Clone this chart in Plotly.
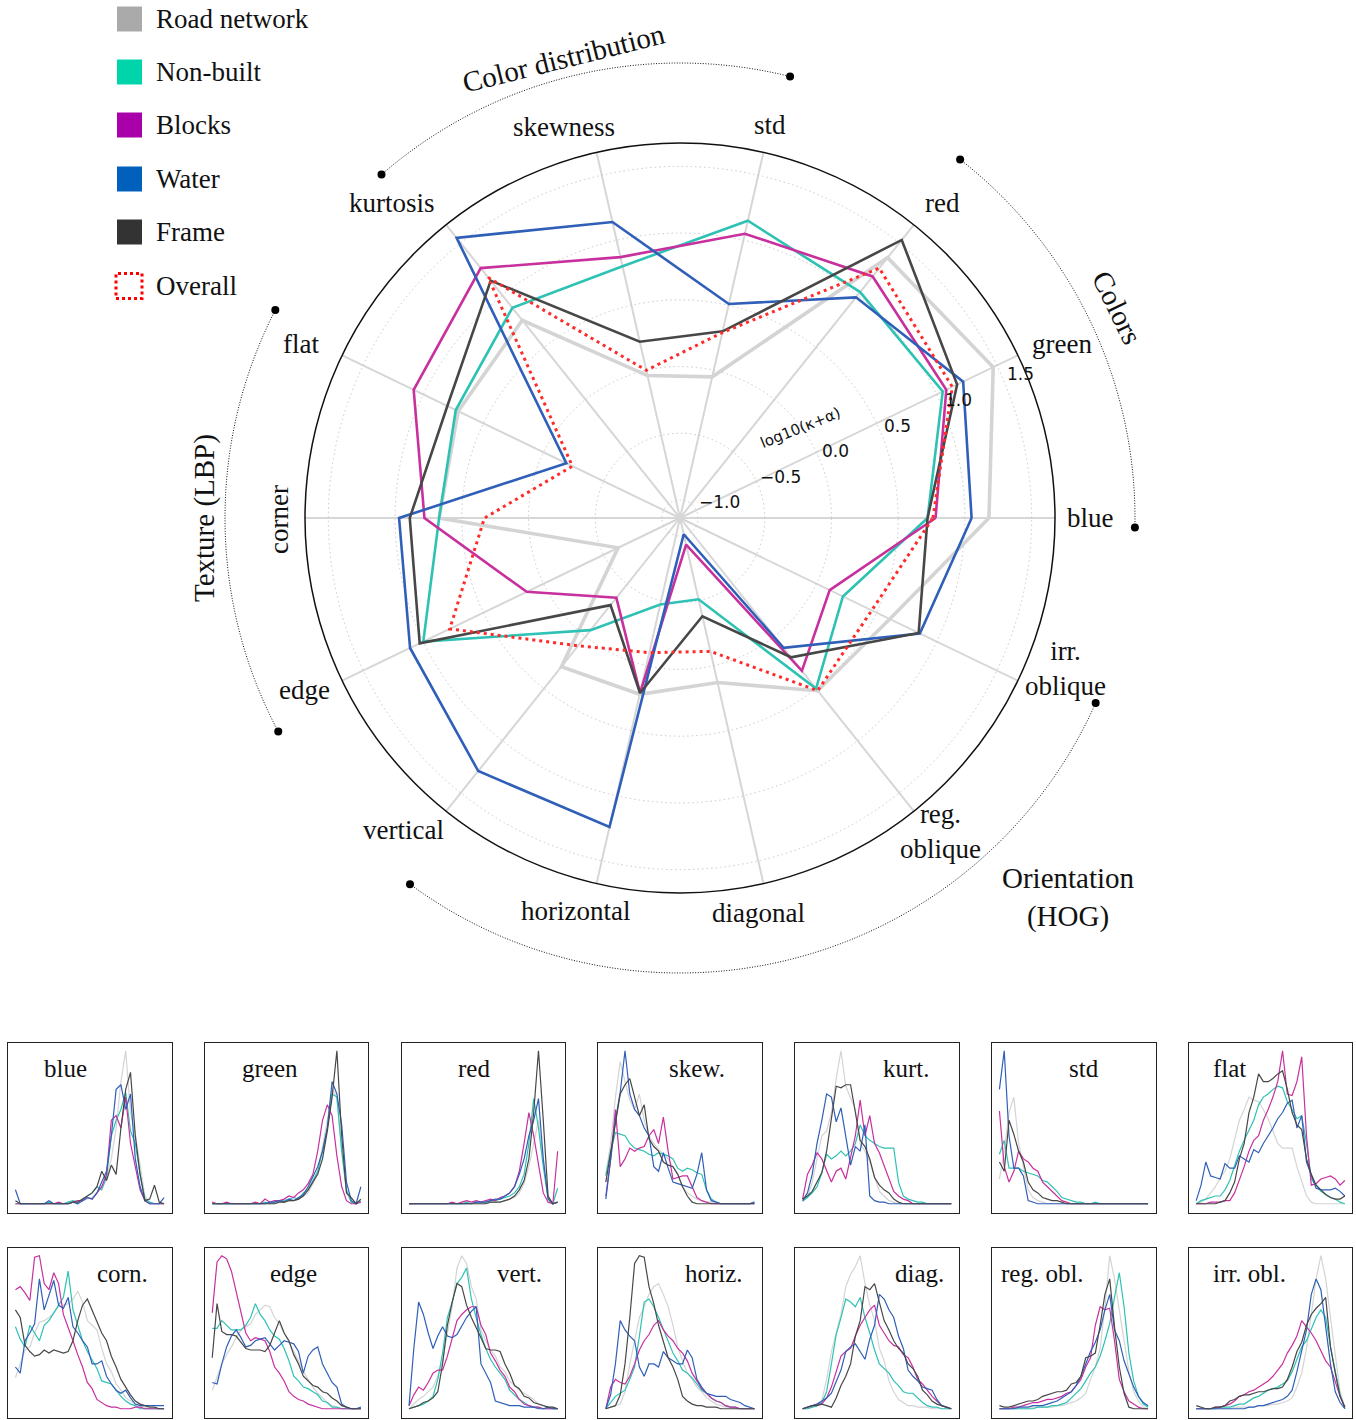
import math
import plotly.graph_objects as go

W, H = 1356, 1420
SERIF = "Liberation Serif"
SANS = "DejaVu Sans"

# ---------------- radar data: log10(kappa+alpha) per descriptor ----------------
descriptors = ["blue", "green", "red", "std", "skewness", "kurtosis", "flat",
               "corner", "edge", "vertical", "horizontal", "diagonal",
               "reg. oblique", "irr. oblique"]

road_network = [1.18, 1.47, 1.36, -0.05, -0.04, 0.76, 0.71, 0.67, -0.62, 0.29, 0.22, 0.13, 0.52, 0.61]
non_built    = [0.72, 1.05, 1.03, 1.15, 0.80, 0.88, 0.73, 0.67, 1.00, -0.06, -0.47, -0.51, 0.50, 0.22]
blocks       = [0.78, 1.08, 1.18, 1.05, 0.87, 1.26, 1.08, 0.78, 0.14, -0.37, 0.21, -0.93, 0.33, 0.11]
water        = [1.05, 1.22, 0.98, 0.51, 1.14, 1.55, -0.19, 0.97, 1.11, 1.29, 1.24, -1.01, 0.11, 0.86]
frame        = [0.72, 1.17, 1.53, 0.30, 0.22, 1.14, 0.80, 0.89, 1.03, -0.30, 0.21, -0.38, 0.20, 0.85]
overall      = [0.76, 1.13, 1.26, 0.29, 0.00, 1.17, -0.24, 0.33, 0.78, 0.09, -0.10, -0.11, 0.52, 0.46]

radial_range = [-1.135, 1.675]
radial_ticks = [-1.0, -0.5, 0.0, 0.5, 1.0, 1.5]
radial_ticktext = ["\u22121.0", "\u22120.5", "0.0", "0.5", "1.0", "1.5"]

# ---------------- per-descriptor histograms (series order: road, non-built, blocks, water, frame) ----------------
hist_blue = [
    [1,1,1,1,1,1,1,1,1,1, 1,2,2,3,3,4,5,8,12,18, 30,50,80,100,60,46,25,6,2,1, 1,1],
    [1,1,1,1,1,1,1,2,1,1, 1,2,3,2,4,6,8,12,10,18, 45,55,62,73,48,40,20,4,2,1, 1,1],
    [1,1,1,1,1,1,1,1,1,2, 1,1,2,3,3,5,4,8,12,20, 55,58,50,70,40,25,10,3,1,1, 1,1],
    [10,1,1,1,1,1,1,3,1,1, 1,1,2,1,3,5,4,8,15,22, 45,75,78,62,72,30,12,3,1,1, 1,5],
    [3,1,1,1,1,1,1,1,1,1, 1,1,2,2,4,6,8,12,22,16, 26,20,50,75,86,45,20,3,4,13, 2,1],
]
hist_green = [
    [1,1,1,1,1,1,1,1,1,1, 1,1,1,1,2,2,3,3,4,6, 8,14,22,38,55,75,70,35,8,2, 1,2],
    [1,1,1,1,1,1,1,1,1,1, 1,2,1,2,3,3,4,5,4,8, 10,16,22,35,50,72,70,35,10,2, 1,3],
    [2,1,1,2,1,1,1,1,1,2, 1,4,2,3,3,4,6,5,8,10, 14,20,35,55,65,58,32,12,3,1, 1,2],
    [1,1,1,1,1,1,1,1,1,1, 1,1,2,2,3,2,4,3,5,7, 12,18,25,35,50,80,72,52,15,3, 1,12],
    [1,1,1,1,1,1,1,1,1,1, 1,1,1,1,2,2,3,3,4,6, 10,15,20,30,48,70,100,45,8,5, 1,4],
]
hist_red = [
    [1,1,1,1,1,1,1,1,1,1, 1,1,1,1,1,1,1,2,2,2, 3,4,5,8,14,25,40,55,30,5, 1,2],
    [1,1,1,1,1,1,1,1,1,1, 1,1,2,1,2,2,2,3,3,4, 5,6,8,12,20,40,69,50,25,4, 1,11],
    [1,1,1,1,1,1,1,1,1,2, 1,2,3,2,3,2,3,4,3,5, 6,8,12,22,40,60,45,25,8,2, 1,35],
    [1,1,1,1,1,1,1,1,1,1, 1,1,1,1,2,2,2,3,4,4, 6,8,12,20,30,45,55,69,30,4, 1,2],
    [1,1,1,1,1,1,1,1,1,1, 1,1,1,1,1,1,1,2,2,2, 3,4,6,10,16,30,60,100,55,6, 1,2],
]
hist_skew = [
    [20,40,70,93,80,68,62,72,55,45, 40,36,33,30,25,20,12,8,6,4, 3,2,2,1,1,1,1,1,1,1, 1,1],
    [19,35,47,46,45,40,37,36,35,33, 32,34,33,32,30,24,22,24,23,21, 20,10,4,2,1,1,1,1,1,1, 1,2],
    [6,30,62,25,30,37,35,37,38,45, 49,40,57,35,17,18,19,19,12,5, 3,2,1,1,1,1,1,1,1,1, 1,1],
    [4,28,55,73,100,72,62,58,50,45, 25,22,34,24,15,14,13,12,11,20, 34,10,3,2,1,1,1,1,1,1, 1,2],
    [15,35,55,72,78,82,70,58,65,43, 38,35,28,26,25,20,12,6,2,1, 1,1,1,1,1,1,1,1,1,1, 1,1],
]
hist_kurt = [
    [2,5,15,30,45,48,60,82,100,77, 70,62,40,35,28,18,9,6,3,2, 1,1,1,1,1,1,1,1,1,1, 1,1],
    [3,5,8,12,21,33,30,32,35,32, 35,40,52,45,42,40,38,37,37,37, 15,6,4,3,2,2,1,1,1,1, 1,1],
    [4,20,26,34,30,22,15,22,24,17, 30,45,68,45,58,40,34,26,18,9, 6,4,3,1,1,1,1,1,1,1, 1,1],
    [3,8,20,40,55,72,70,54,63,45, 26,38,35,52,6,3,2,2,1,1, 1,1,1,1,1,1,1,1,1,1, 1,1],
    [4,6,9,15,21,35,55,77,76,78, 78,60,42,38,30,18,13,10,8,4, 2,1,1,1,1,1,1,1,1,1, 1,1],
]
hist_std = [
    [17,35,60,70,40,24,10,5,3,2, 1,1,1,1,1,1,1,1,1,1, 1,1,1,1,1,1,1,1,1,1, 1,1],
    [33,42,24,24,24,22,21,20,19,16, 15,12,9,5,4,3,2,2,1,1, 2,1,1,1,1,1,1,1,1,1, 1,1],
    [61,25,15,22,35,30,28,24,22,15, 12,9,6,3,2,1,1,1,1,1, 1,1,1,1,1,1,1,1,1,1, 1,1],
    [75,100,45,24,24,19,3,2,1,1, 1,1,1,1,1,1,1,1,1,1, 1,1,1,1,1,1,1,1,1,1, 1,1],
    [28,22,55,46,35,28,15,10,8,5, 4,3,3,2,1,1,1,1,1,1, 1,1,1,1,1,1,1,1,1,1, 1,1],
]
hist_flat = [
    [1,2,4,8,12,18,22,30,42,55, 62,70,68,67,62,56,48,40,37,37, 37,25,15,6,2,1,1,1,1,1, 1,1],
    [1,3,4,5,6,6,10,16,25,35, 42,48,55,65,70,72,75,77,76,67, 62,56,58,40,17,13,9,7,5,4, 2,1],
    [1,1,1,2,2,2,3,3,8,16, 25,35,42,45,55,62,70,80,100,72, 71,80,96,45,13,14,17,18,19,17, 13,16],
    [3,13,28,19,18,17,27,24,24,32, 30,28,36,34,40,45,50,56,60,66, 68,50,58,28,20,11,10,10,10,11, 9,6],
    [1,1,1,1,1,2,3,8,15,30, 40,60,70,85,80,80,82,85,87,75, 60,52,49,30,20,13,10,7,5,4, 4,6],
]
hist_corn = [
    [21,30,39,41,50,57,58,60,63,67, 68,69,72,77,70,58,55,52,40,30, 25,17,13,8,6,4,3,2,1,1, 1,1],
    [54,46,41,55,50,45,55,58,63,68, 73,90,65,55,45,38,32,27,19,18, 17,13,9,6,4,3,1,1,1,1, 1,1],
    [78,80,76,71,99,100,82,78,89,82, 62,54,45,36,28,18,14,7,5,3, 2,2,1,1,1,2,2,1,1,1, 1,1],
    [28,24,45,50,56,85,65,75,84,68, 66,73,54,50,45,41,30,30,32,22, 17,13,11,13,8,4,3,3,3,3, 3,3],
    [65,60,42,38,35,36,39,37,39,38, 37,38,45,58,68,72,65,58,50,45, 35,28,20,15,10,6,4,3,2,2, 1,1],
]
hist_edge = [
    [13,22,30,36,41,47,52,54,56,62, 65,68,67,60,56,50,45,38,32,25, 20,15,11,8,5,3,2,1,1,1, 1,1],
    [53,53,58,55,52,52,52,55,60,69, 62,58,52,48,46,40,32,22,19,15, 14,12,10,6,5,2,2,1,1,1, 1,1],
    [63,96,100,98,90,77,65,50,45,47, 46,45,38,28,24,19,12,9,7,6, 4,3,2,1,1,1,1,1,1,1, 1,1],
    [18,17,30,41,48,52,47,41,42,45, 46,47,43,39,42,45,44,43,38,24, 35,39,41,30,24,18,15,4,2,1, 1,2],
    [34,69,51,49,49,48,44,40,39,39, 39,38,42,50,58,50,45,36,30,22, 19,16,15,12,11,8,6,3,2,1, 1,1],
]
hist_vert = [
    [1,4,7,9,12,15,22,32,50,67, 92,100,95,80,72,52,45,39,35,28, 25,19,16,13,11,9,7,4,3,2, 2,1],
    [1,2,3,4,6,9,20,37,60,70, 82,86,92,72,60,49,40,33,28,24, 20,13,10,7,5,3,2,2,1,1, 1,1],
    [3,10,15,13,18,24,26,26,35,47, 58,62,65,67,67,55,49,37,32,26, 22,15,12,7,4,3,2,2,1,1, 1,1],
    [3,40,70,62,50,40,48,54,48,47, 49,55,60,64,67,30,24,18,6,5, 4,3,3,3,2,2,2,1,1,2, 1,1],
    [1,2,3,5,6,8,12,30,55,70, 82,80,68,60,54,47,40,39,39,38, 30,24,16,14,9,8,5,4,3,2, 2,1],
]
hist_horiz = [
    [1,2,3,4,12,30,45,60,67,75, 80,82,75,67,55,41,32,24,20,15, 12,8,6,4,3,2,2,1,1,1, 1,1],
    [1,5,9,11,13,20,28,48,70,72, 67,60,52,44,37,32,26,24,21,17, 13,11,8,6,5,3,2,2,1,1, 1,1],
    [1,15,20,18,17,22,30,39,45,49, 55,58,52,48,45,40,37,32,24,19, 14,11,8,6,5,3,2,2,1,1, 1,1],
    [1,10,30,58,52,48,45,28,22,30, 30,28,38,34,32,30,30,39,34,20, 15,11,10,9,9,9,7,6,5,3, 2,1],
    [1,2,3,10,30,60,95,100,99,80, 69,55,45,34,28,20,9,6,4,3, 3,2,2,2,1,1,1,1,1,1, 1,1],
]
hist_diag = [
    [1,1,2,3,6,20,38,50,62,80, 88,93,100,82,68,58,40,32,19,12, 7,5,3,3,2,2,2,1,1,1, 1,1],
    [1,1,2,3,5,12,30,49,60,72, 70,67,73,60,50,39,30,27,24,19, 16,12,11,11,8,5,3,2,2,1, 1,1],
    [1,2,3,4,4,8,15,25,35,38, 40,48,55,60,65,68,55,50,45,42, 41,36,34,28,20,17,13,9,6,3, 2,1],
    [1,2,3,4,6,8,11,18,26,38, 41,43,38,33,46,55,75,72,65,60, 48,40,26,22,19,15,14,13,7,3, 2,1],
    [1,2,3,3,4,3,2,8,16,22, 30,48,58,80,78,82,70,58,52,45, 40,37,30,27,22,13,10,6,4,3, 2,1],
]
hist_regobl = [
    [1,1,1,1,1,1,1,2,2,2, 2,2,3,3,4,5,6,8,11,20, 28,40,67,100,85,65,45,25,12,6, 2,1],
    [1,1,1,1,1,1,1,1,2,2, 2,3,3,4,5,8,11,14,19,24, 28,35,45,56,73,89,67,37,19,9, 4,2],
    [1,1,1,2,2,3,4,5,5,6, 7,7,8,9,11,12,16,20,28,34, 55,67,65,66,45,20,12,6,4,2, 1,1],
    [1,1,1,1,2,2,2,3,3,3, 4,5,6,8,10,12,16,22,30,38, 44,52,65,75,52,45,32,24,15,9, 5,3],
    [3,2,2,3,4,5,6,6,7,9, 10,11,12,12,13,17,18,22,34,35, 37,55,75,85,54,28,11,2,1,1, 1,1],
]
hist_irrobl = [
    [1,1,1,1,1,1,1,1,2,2, 2,2,2,3,3,3,4,4,5,6, 8,15,24,40,62,85,100,85,60,35, 12,2],
    [1,1,1,1,1,2,2,2,3,4, 4,6,8,9,11,13,14,15,17,19, 25,33,41,45,52,60,65,60,41,25, 10,1],
    [1,1,1,1,2,2,3,4,6,9, 10,12,13,15,17,19,22,26,30,37, 42,48,58,54,50,45,38,32,28,18, 9,2],
    [1,1,1,1,1,1,1,1,1,1, 1,2,2,3,3,4,5,6,7,9, 13,25,39,52,75,85,78,55,30,12, 5,1],
    [3,2,1,1,2,2,3,6,7,9, 10,10,11,12,12,13,14,14,15,20, 28,38,44,55,62,66,69,73,41,24, 9,2],
]

panels = [
    ("blue", hist_blue), ("green", hist_green), ("red", hist_red), ("skew.", hist_skew),
    ("kurt.", hist_kurt), ("std", hist_std), ("flat", hist_flat),
    ("corn.", hist_corn), ("edge", hist_edge), ("vert.", hist_vert), ("horiz.", hist_horiz),
    ("diag.", hist_diag), ("reg. obl.", hist_regobl), ("irr. obl.", hist_irrobl),
]
# horizontal placement of each panel title (fraction of panel width)
panel_title_x = [0.35, 0.40, 0.445, 0.60, 0.68, 0.56, 0.25,
                 0.70, 0.54, 0.72, 0.71, 0.76, 0.31, 0.37]

# ---------------- styles ----------------
series_names = ["Road network", "Non-built", "Blocks", "Water", "Frame"]
legend_colors = ["#aaaaaa", "#00d4aa", "#aa00aa", "#0060bb", "#333333"]
line_colors = ["#d4d4d4", "#2ec2b4", "#c8309e", "#2f5fb8", "#474747"]
radar_widths = [3.6, 2.6, 2.6, 2.6, 2.6]

# ---------------- geometry helpers (pixel -> paper) ----------------
CX, CY, R = 680, 518, 375
RADIAL_AXIS_ANGLE = 22.5


def px(x, y):
    return x / W, 1 - y / H


def radial_px(value):
    return (value - radial_range[0]) / (radial_range[1] - radial_range[0]) * R


fig = go.Figure()

# radar traces
for name, vals, col, wdt in zip(series_names,
                                [road_network, non_built, blocks, water, frame],
                                line_colors, radar_widths):
    fig.add_trace(go.Scatterpolar(
        r=vals + vals[:1], theta=descriptors + descriptors[:1], mode="lines",
        line=dict(color=col, width=wdt), name=name, showlegend=False, hoverinfo="skip"))
fig.add_trace(go.Scatterpolar(
    r=overall + overall[:1], theta=descriptors + descriptors[:1], mode="lines",
    line=dict(color="#ff2a2a", width=3, dash="3px,4px"), name="Overall",
    showlegend=False, hoverinfo="skip"))

# small histogram panels
layout_axes = {}
for k, (title, series) in enumerate(panels):
    row, col = divmod(k, 7)
    x0 = 8 + 196.8 * col
    x1 = x0 + 163.5
    y0 = 1043 + 205 * row
    y1 = y0 + 170
    sx = "" if k == 0 else str(k + 1)
    for vals, c in zip(series, line_colors):
        n = len(vals)
        xs = [i * 31 / (n - 1) for i in range(n)]
        fig.add_trace(go.Scatter(x=xs, y=vals, mode="lines",
                                 line=dict(color=c, width=1.2),
                                 xaxis="x" + sx, yaxis="y" + sx,
                                 showlegend=False, hoverinfo="skip"))
    common = dict(showticklabels=False, showgrid=False, zeroline=False, ticks="",
                  showline=True, mirror=True, linecolor="#222222", linewidth=1.4,
                  fixedrange=True)
    layout_axes["xaxis" + sx] = dict(domain=[x0 / W, x1 / W], anchor="y" + sx,
                                     range=[-1.55, 32.55], **common)
    layout_axes["yaxis" + sx] = dict(domain=[1 - y1 / H, 1 - y0 / H], anchor="x" + sx,
                                     range=[-5, 105], **common)

annotations = []
shapes = []

# panel titles
for k, (title, _) in enumerate(panels):
    row, col = divmod(k, 7)
    x0 = 8 + 196.8 * col
    y0 = 1043 + 205 * row
    ax_, ay_ = px(x0 + panel_title_x[k] * 163.5, y0 + 25)
    annotations.append(dict(text=title, x=ax_, y=ay_, xref="paper", yref="paper",
                            showarrow=False, xanchor="center", yanchor="middle",
                            font=dict(family=SERIF, size=25, color="#111")))

# radial tick labels, set just above the radial axis at each grid ring
ca = math.cos(math.radians(RADIAL_AXIS_ANGLE))
sa = math.sin(math.radians(RADIAL_AXIS_ANGLE))
for v, t in zip(radial_ticks, radial_ticktext):
    rp = radial_px(v)
    ax_, ay_ = px(CX + rp * ca, CY - rp * sa - 9)
    annotations.append(dict(text=t, x=ax_, y=ay_, xref="paper", yref="paper",
                            showarrow=False, xanchor="left", yanchor="middle",
                            font=dict(family=SANS, size=17, color="#111")))

# descriptor labels around the radar (pixel centre, rotation)
descriptor_labels = [
    ("blue", 1090, 518, 0), ("green", 1062, 344, 0), ("red", 943, 203, 0),
    ("std", 770, 125, 0), ("skewness", 564, 127, 0), ("kurtosis", 392, 203, 0),
    ("flat", 301, 344, 0), ("corner", 279, 520, -90), ("edge", 304, 690, 0),
    ("vertical", 403, 830, 0), ("horizontal", 575, 911, 0), ("diagonal", 758, 913, 0),
    ("reg.<br>oblique", 940, 831, 0), ("irr.<br>oblique", 1065, 668, 0),
]
for txt, lx, ly, ang in descriptor_labels:
    ax_, ay_ = px(lx, ly)
    annotations.append(dict(text=txt, x=ax_, y=ay_, xref="paper", yref="paper",
                            showarrow=False, xanchor="center", yanchor="middle",
                            textangle=ang,
                            font=dict(family=SERIF, size=27, color="#111")))

# group headings
group_labels = [
    ("Color distribution", 564, 58, -14),
    ("Colors", 1117, 307, 64),
    ("Texture (LBP)", 205, 518, -90),
    ("Orientation<br>(HOG)", 1068, 897, 0),
]
for txt, lx, ly, ang in group_labels:
    ax_, ay_ = px(lx, ly)
    annotations.append(dict(text=txt, x=ax_, y=ay_, xref="paper", yref="paper",
                            showarrow=False, xanchor="center", yanchor="middle",
                            textangle=ang,
                            font=dict(family=SERIF, size=29, color="#111")))

# radial axis title
ax_, ay_ = px(800, 428)
annotations.append(dict(text="log10(\u03ba+\u03b1)", x=ax_, y=ay_, xref="paper", yref="paper",
                        showarrow=False, xanchor="center", yanchor="middle", textangle=-22,
                        font=dict(family=SANS, size=15, color="#111")))


# dotted arcs grouping the descriptors
def arc(a0, a1, r=455, n=90):
    pts = []
    for i in range(n + 1):
        a = math.radians(a0 + (a1 - a0) * i / n)
        pts.append(px(CX + r * math.cos(a), CY - r * math.sin(a)))
    return pts


for a0, a1 in [(131, 76), (52, -1.2), (152.8, 208), (233.6, 336)]:
    pts = arc(a0, a1)
    path = "M " + " L ".join(f"{x:.5f},{y:.5f}" for x, y in pts)
    shapes.append(dict(type="path", path=path, xref="paper", yref="paper",
                       line=dict(color="#111", width=1, dash="1px,1.6px")))
    for a in (a0, a1):
        rr = math.radians(a)
        ex, ey = CX + 455 * math.cos(rr), CY - 455 * math.sin(rr)
        shapes.append(dict(type="circle", xref="paper", yref="paper",
                           x0=(ex - 4) / W, x1=(ex + 4) / W,
                           y0=1 - (ey + 4) / H, y1=1 - (ey - 4) / H,
                           fillcolor="#000", line=dict(color="#000", width=0)))

# legend
leg_y = [19, 72, 125, 179, 232, 286]
for i, (name, c) in enumerate(zip(series_names + ["Overall"], legend_colors + [None])):
    y = leg_y[i]
    if c is not None:
        shapes.append(dict(type="rect", xref="paper", yref="paper",
                           x0=117 / W, x1=142 / W, y0=1 - (y + 12.5) / H, y1=1 - (y - 12.5) / H,
                           fillcolor=c, line=dict(width=0)))
    else:
        shapes.append(dict(type="rect", xref="paper", yref="paper",
                           x0=116 / W, x1=142 / W, y0=1 - (y + 12.5) / H, y1=1 - (y - 12.5) / H,
                           fillcolor="rgba(0,0,0,0)",
                           line=dict(color="#ff0000", width=3, dash="3px,3px")))
    ax_, ay_ = px(154, y)
    annotations.append(dict(text=name, x=ax_, y=ay_, xref="paper", yref="paper",
                            showarrow=False, xanchor="left", yanchor="middle",
                            font=dict(family=SERIF, size=27, color="#111")))

fig.update_layout(
    width=W, height=H,
    margin=dict(l=0, r=0, t=0, b=0),
    paper_bgcolor="white", plot_bgcolor="white",
    polar=dict(
        domain=dict(x=[(CX - R) / W, (CX + R) / W], y=[1 - (CY + R) / H, 1 - (CY - R) / H]),
        bgcolor="white",
        radialaxis=dict(range=radial_range, tickvals=radial_ticks,
                        angle=RADIAL_AXIS_ANGLE, showticklabels=False, showline=False, ticks="",
                        gridcolor="#c8c8c8", griddash="1.5px,3px", gridwidth=1.3),
        angularaxis=dict(type="category", categoryarray=descriptors, rotation=0,
                         direction="counterclockwise", showticklabels=False, ticks="",
                         gridcolor="#d6d6d6", gridwidth=1.5,
                         showline=True, linecolor="#111", linewidth=1.5),
    ),
    annotations=annotations,
    shapes=shapes,
    **layout_axes,
)

fig.write_html("out.html")
